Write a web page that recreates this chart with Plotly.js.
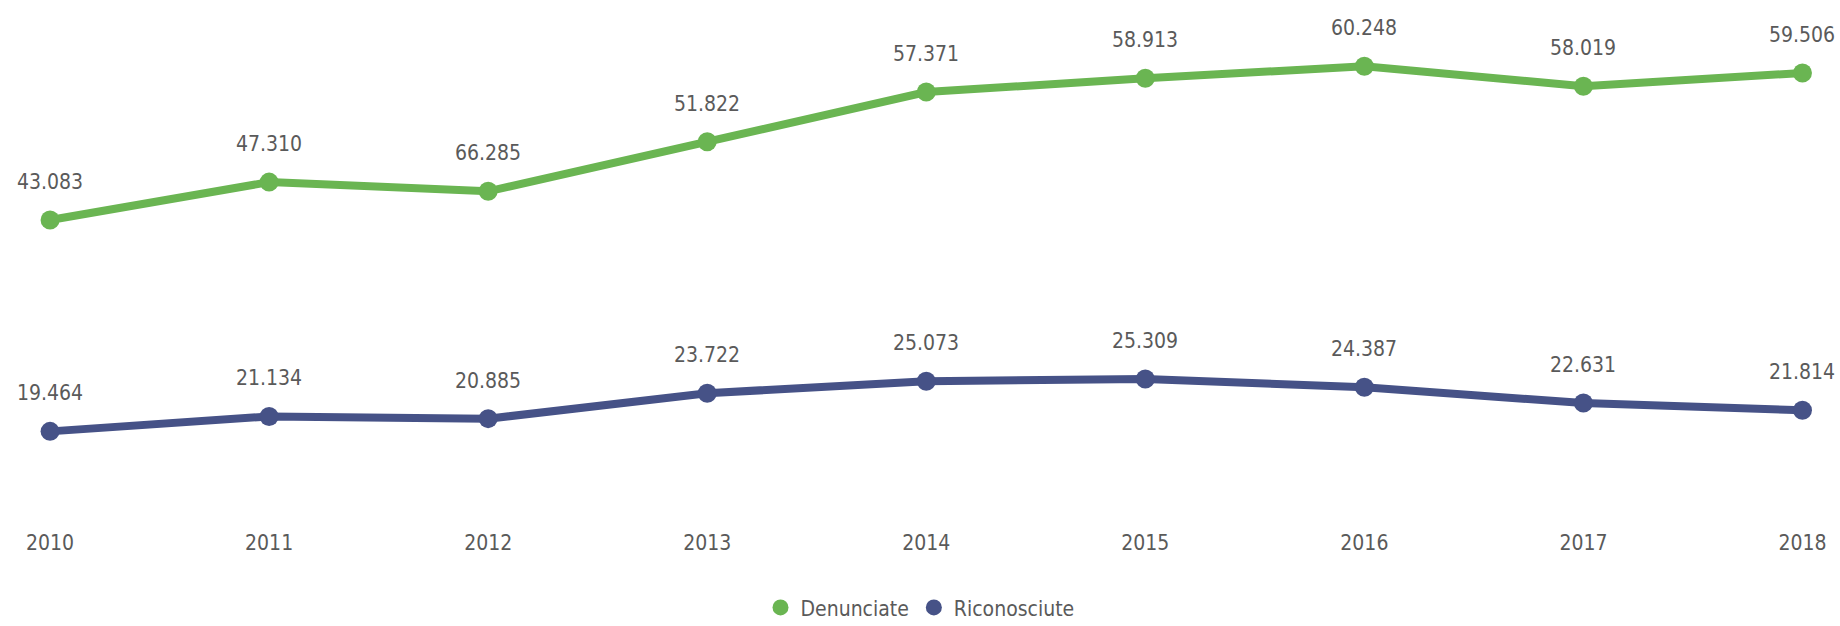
<!DOCTYPE html>
<html>
<head>
<meta charset="utf-8">
<script src="https://cdn.plot.ly/plotly-3.0.1.min.js"></script>
<style>
html,body{margin:0;padding:0;background:#fff;}
#chart{width:1840px;height:626px;}
</style>
</head>
<body>
<div id="chart"></div>
<script>
const years = ["2010","2011","2012","2013","2014","2015","2016","2017","2018"];
const denunciate = [43083, 47310, 46285, 51822, 57371, 58913, 60248, 58019, 59506];
const denunciateLabels = ["43.083","47.310","66.285","51.822","57.371","58.913","60.248","58.019","59.506"];
const riconosciute = [19464, 21134, 20885, 23722, 25073, 25309, 24387, 22631, 21814];
const riconosciuteLabels = ["19.464","21.134","20.885","23.722","25.073","25.309","24.387","22.631","21.814"];

const green = "#6ab552";
const blue = "#465287";
const textColor = "#5a5a5a";
const fontFam = "'DejaVu Sans Condensed', 'Roboto Condensed', 'Liberation Sans Narrow', Roboto, sans-serif";

const traces = [
  {x: years, y: denunciate, type: "scatter", mode: "lines+markers", name: "Denunciate",
   line: {color: green, width: 8, shape: "linear"}, marker: {color: green, size: 19},
   showlegend: false, hoverinfo: "skip"},
  {x: years, y: riconosciute, type: "scatter", mode: "lines+markers", name: "Riconosciute",
   line: {color: blue, width: 8}, marker: {color: blue, size: 19},
   showlegend: false, hoverinfo: "skip"},
  {x: [null], y: [null], type: "scatter", mode: "markers", name: "Denunciate",
   marker: {color: green, size: 20}},
  {x: [null], y: [null], type: "scatter", mode: "markers", name: "Riconosciute",
   marker: {color: blue, size: 20}}
];

const annotations = [];
years.forEach((yr, i) => {
  annotations.push({x: i, y: denunciate[i], xref: "x", yref: "y", text: denunciateLabels[i],
    showarrow: false, yshift: 38, font: {family: fontFam, size: 21, color: textColor}});
  annotations.push({x: i, y: riconosciute[i], xref: "x", yref: "y", text: riconosciuteLabels[i],
    showarrow: false, yshift: 38, font: {family: fontFam, size: 21, color: textColor}});
});

const layout = {
  width: 1840, height: 626,
  margin: {l: 0, r: 0, t: 20, b: 98, autoexpand: false},
  paper_bgcolor: "#fff", plot_bgcolor: "#fff",
  font: {family: fontFam, color: textColor, size: 21},
  xaxis: {type: "category", categoryorder: "array", categoryarray: years,
    range: [-0.2286, 8.1714], showgrid: false, zeroline: false, showline: false,
    automargin: false,
    ticks: "", tickfont: {family: fontFam, size: 21, color: textColor}},
  yaxis: {range: [8669, 65422], visible: false, showgrid: false, zeroline: false, automargin: false},
  showlegend: true,
  legend: {orientation: "h", x: 0.5, xanchor: "center", y: -0.157, yanchor: "middle",
    font: {family: fontFam, size: 21, color: textColor}, itemwidth: 30, tracegroupgap: 0},
  annotations: annotations
};

Plotly.newPlot("chart", traces, layout, {displayModeBar: false, staticPlot: true});
</script>
</body>
</html>
